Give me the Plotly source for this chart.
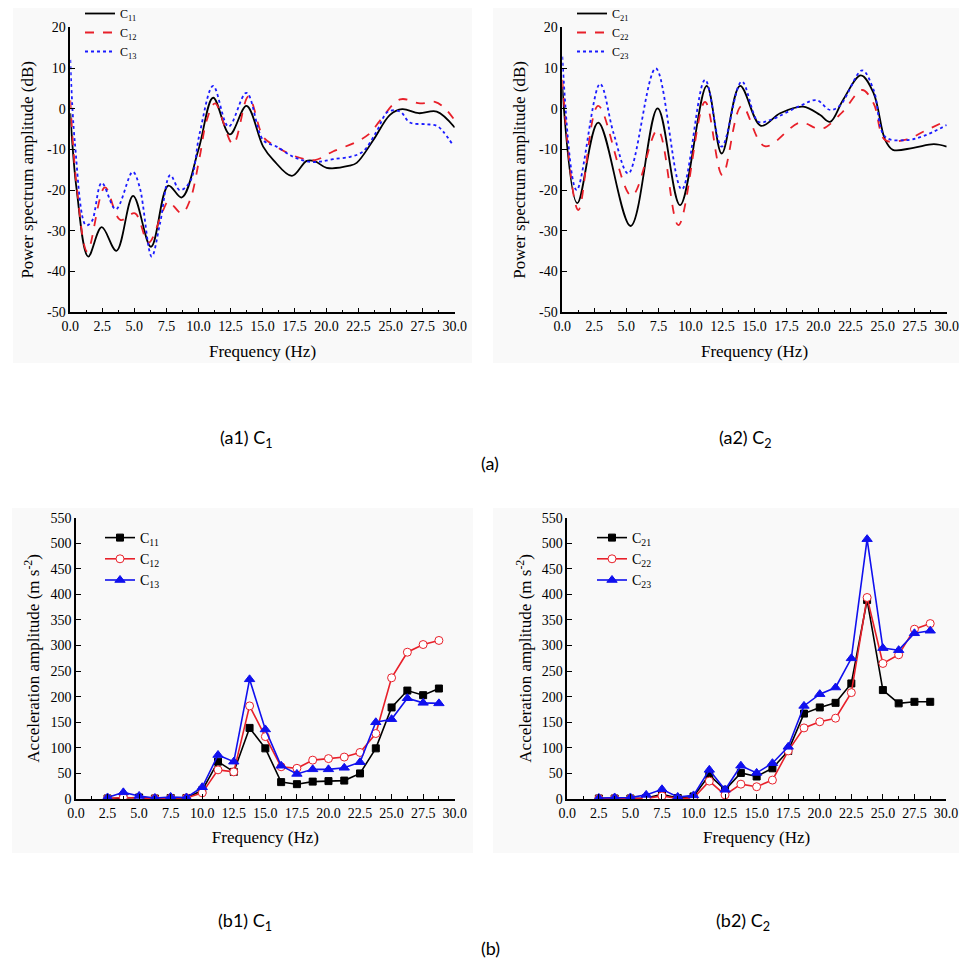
import plotly.graph_objects as go

# ---------------- data: power spectra (a) ----------------
a1_c11_x = [0.0, 0.5, 1.4, 2.45, 3.6, 4.9, 6.3, 7.65, 8.7, 10.0, 11.15, 12.45, 13.75, 15.05, 15.85, 17.3, 18.45, 19.1, 20.0, 21.8, 22.35, 23.65, 24.95, 25.9, 27.2, 28.6, 30.0]
a1_c11_y = [-1.1, -20.0, -36.3, -29.1, -34.9, -21.4, -33.9, -18.9, -21.8, -10.1, 2.7, -6.3, 0.7, -9.3, -12.6, -16.5, -12.8, -12.9, -14.5, -14.0, -13.3, -7.7, -1.5, -0.1, -1.1, -0.7, -4.6]

a1_c12_x = [0.0, 0.5, 1.33, 2.7, 3.9, 5.05, 6.1, 7.25, 7.65, 8.7, 9.35, 10.1, 10.65, 11.3, 12.7, 13.9, 15.05, 15.85, 17.65, 19.1, 20.5, 22.35, 23.4, 24.2, 25.75, 27.3, 28.45, 29.1, 29.9]
a1_c12_y = [2.1, -19.0, -35.1, -19.3, -27.3, -25.7, -32.9, -24.9, -22.8, -25.7, -22.4, -11.8, -2.8, 1.3, -8.7, 3.0, -6.9, -8.9, -11.8, -12.6, -10.5, -8.1, -6.0, -2.8, 2.3, 1.3, 1.7, 0.5, -2.4]

a1_c13_x = [0.0, 0.36, 1.22, 1.67, 2.45, 3.55, 4.87, 5.4, 6.35, 7.0, 7.8, 8.55, 9.35, 10.1, 11.15, 12.35, 13.75, 15.05, 16.1, 17.4, 18.6, 19.5, 20.5, 21.85, 22.85, 23.9, 24.8, 25.75, 26.5, 27.8, 28.6, 29.1, 29.9]
a1_c13_y = [12.0, -8.5, -28.6, -27.7, -18.2, -24.7, -15.5, -19.1, -36.3, -28.2, -16.3, -20.0, -17.9, -6.0, 5.6, -4.4, 3.9, -7.7, -9.3, -11.8, -13.0, -13.0, -12.4, -11.8, -10.5, -5.6, -0.7, -0.7, -3.4, -3.8, -4.2, -5.6, -9.1]

a2_c21_x = [0.0, 1.17, 2.8, 5.33, 7.44, 9.19, 11.27, 12.44, 13.87, 15.5, 17.0, 18.8, 20.1, 20.9, 21.9, 23.3, 24.3, 25.2, 25.8, 27.4, 29.0, 30.0]
a2_c21_y = [5.4, -23.2, -3.4, -28.8, 0.1, -23.7, 5.6, -11.0, 5.6, -4.2, -1.1, 0.5, -1.5, -3.2, 2.1, 8.2, 3.8, -7.7, -10.1, -9.6, -8.7, -9.3]

a2_c22_x = [0.0, 1.25, 2.8, 5.41, 7.44, 9.06, 11.14, 12.49, 14.0, 15.8, 18.55, 19.85, 20.4, 21.9, 23.4, 24.3, 25.2, 26.9, 28.2, 30.0]
a2_c22_y = [7.1, -24.9, 0.7, -21.4, -5.2, -28.6, 1.7, -16.3, 0.7, -9.2, -3.4, -4.8, -4.8, -0.7, 4.6, 1.3, -7.7, -7.5, -5.6, -2.9]

a2_c23_x = [0.0, 1.12, 2.94, 4.0, 5.15, 7.29, 9.32, 11.14, 12.44, 14.0, 15.3, 16.2, 18.55, 19.85, 20.9, 21.7, 23.4, 24.3, 25.2, 26.9, 28.2, 30.0]
a2_c23_y = [12.8, -20.0, 6.1, -6.0, -15.9, 9.9, -19.8, 7.1, -9.3, 6.7, -3.2, -2.8, 0.7, 2.1, -0.3, 0.9, 9.4, 4.6, -6.9, -7.7, -6.7, -4.0]

# ---------------- data: acceleration amplitudes (b) ----------------
b_freq = [2.5, 3.75, 5.0, 6.25, 7.5, 8.75, 10.0, 11.25, 12.5, 13.75, 15.0, 16.25, 17.5, 18.75, 20.0, 21.25, 22.5, 23.75, 25.0, 26.25, 27.5, 28.75]
b1_c11 = [1, 2, 3, 1, 2, 2, 17, 73, 53, 139, 99, 33, 29, 34, 35, 36, 50, 99, 179, 212, 203, 216]
b1_c12 = [1, 3, 2, 1, 2, 2, 12, 57, 53, 182, 122, 63, 60, 76, 79, 82, 91, 128, 237, 287, 302, 310]
b1_c13 = [3, 13, 6, 2, 4, 3, 23, 86, 73, 234, 136, 65, 49, 58, 58, 61, 72, 150, 156, 197, 188, 187]
b2_c21 = [1, 1, 1, 2, 9, 2, 5, 47, 18, 51, 44, 60, 94, 167, 179, 188, 226, 389, 213, 187, 190, 190]
b2_c22 = [1, 1, 1, 1, 6, 1, 2, 35, 8, 29, 24, 37, 94, 139, 151, 158, 208, 394, 265, 282, 332, 343]
b2_c23 = [2, 3, 3, 8, 19, 4, 7, 57, 18, 65, 51, 70, 102, 182, 205, 218, 275, 508, 295, 291, 324, 329]

x_ticks = [0.0, 2.5, 5.0, 7.5, 10.0, 12.5, 15.0, 17.5, 20.0, 22.5, 25.0, 27.5, 30.0]
a_y_ticks = [-50, -40, -30, -20, -10, 0, 10, 20]
b_y_ticks = [0, 50, 100, 150, 200, 250, 300, 350, 400, 450, 500, 550]

SERIF = "Liberation Serif"
OFF = 8                 # page body margin
W, H = 967 - OFF, 968 - OFF

fig = go.Figure()

def px_x(p):
    return (p - OFF) / W

def px_y(p):
    return 1 - (p - OFF) / H

# panel boxes (screen pixels): left, right, top, bottom
panels = {
    "a1": (70.3, 454.7, 27.3, 312.3),
    "a2": (562.3, 946.7, 27.3, 312.3),
    "b1": (76.0, 454.7, 517.7, 799.0),
    "b2": (567.3, 946.0, 517.7, 799.0),
}
axis_ids = {"a1": ("x", "y"), "a2": ("x2", "y2"), "b1": ("x3", "y3"), "b2": ("x4", "y4")}

line_styles = [("black", "solid"), ("#e8202a", "dash"), ("#1a1aff", "dot")]

def add_spectrum(key, xs_list, ys_list, names, legend):
    xa, ya = axis_ids[key]
    for (xs, ys, nm, (col, dash)) in zip(xs_list, ys_list, names, line_styles):
        fig.add_trace(go.Scatter(
            x=xs, y=ys, mode="lines", name=nm, xaxis=xa, yaxis=ya,
            line=dict(color=col, dash=dash, width=1.8, shape="spline", smoothing=1.0),
            legend=legend))

add_spectrum("a1", [a1_c11_x, a1_c12_x, a1_c13_x], [a1_c11_y, a1_c12_y, a1_c13_y],
             ["C<sub>11</sub>", "C<sub>12</sub>", "C<sub>13</sub>"], "legend")
add_spectrum("a2", [a2_c21_x, a2_c22_x, a2_c23_x], [a2_c21_y, a2_c22_y, a2_c23_y],
             ["C<sub>21</sub>", "C<sub>22</sub>", "C<sub>23</sub>"], "legend2")

marker_styles = [
    dict(color="black", symbol="square", size=7, line=dict(color="black", width=1)),
    dict(color="white", symbol="circle", size=8, line=dict(color="#e8202a", width=1)),
    dict(color="#1010ee", symbol="triangle-up", size=9, line=dict(color="#1010ee", width=1)),
]
line_cols = ["black", "#e8202a", "#1010ee"]

def add_accel(key, series, names, legend):
    xa, ya = axis_ids[key]
    for ys, nm, mk, lc in zip(series, names, marker_styles, line_cols):
        fig.add_trace(go.Scatter(
            x=b_freq, y=ys, mode="lines+markers", name=nm, xaxis=xa, yaxis=ya,
            line=dict(color=lc, width=1.6), marker=mk, legend=legend))

add_accel("b1", [b1_c11, b1_c12, b1_c13], ["C<sub>11</sub>", "C<sub>12</sub>", "C<sub>13</sub>"], "legend3")
add_accel("b2", [b2_c21, b2_c22, b2_c23], ["C<sub>21</sub>", "C<sub>22</sub>", "C<sub>23</sub>"], "legend4")

layout = dict(
    width=W, height=H, margin=dict(l=0, r=0, t=0, b=0, autoexpand=False),
    paper_bgcolor="white", plot_bgcolor="rgba(0,0,0,0)",
    font=dict(family=SERIF, size=13, color="black"),
)

def axis_pair(key, yrange, yticks, ytitle, ystandoff):
    l, r, t, b = panels[key]
    xa, ya = axis_ids[key]
    xname = "xaxis" + xa[1:]
    yname = "yaxis" + ya[1:]
    layout[xname] = dict(
        domain=[px_x(l), px_x(r)], anchor=ya, range=[0, 30], tickvals=x_ticks,
        ticktext=[f"{v:.1f}" for v in x_ticks], ticks="inside", ticklen=5, tickwidth=1.2,
        tickcolor="black", showline=True, linecolor="black", linewidth=1.5,
        showgrid=False, zeroline=False, tickfont=dict(family=SERIF, size=14, color="black"),
        automargin=False,
        minor=dict(ticks="inside", ticklen=3, tickwidth=1.2, tickcolor="black", dtick=1.25, tick0=0, showgrid=False),
        title=dict(text="Frequency (Hz)", font=dict(family=SERIF, size=17, color="black"), standoff=12),
    )
    layout[yname] = dict(
        domain=[px_y(b), px_y(t)], anchor=xa, range=yrange, tickvals=yticks,
        ticktext=[str(v) for v in yticks],
        ticks="inside", ticklen=5, tickwidth=1.2, tickcolor="black",
        showline=True, linecolor="black", linewidth=1.5, showgrid=False, zeroline=False,
        tickfont=dict(family=SERIF, size=14, color="black"), automargin=False,
        title=dict(text=ytitle, font=dict(family=SERIF, size=17, color="black"), standoff=ystandoff),
    )

axis_pair("a1", [-50, 20], a_y_ticks, "Power spectrum amplitude (dB)", 9)
axis_pair("a2", [-50, 20], a_y_ticks, "Power spectrum amplitude (dB)", 9)
axis_pair("b1", [0, 550], b_y_ticks, "Acceleration amplitude (m s<sup>-2</sup>)", 6)
axis_pair("b2", [0, 550], b_y_ticks, "Acceleration amplitude (m s<sup>-2</sup>)", 6)

def legend_at(xp, yp, size):
    return dict(x=px_x(xp), y=px_y(yp), xanchor="left", yanchor="top",
                bgcolor="rgba(0,0,0,0)", borderwidth=0, itemwidth=30,
                font=dict(family=SERIF, size=size, color="black"), tracegroupgap=0)

layout["legend"] = legend_at(80, -1, 12)
layout["legend2"] = legend_at(572, -1, 12)
layout["legend3"] = legend_at(100, 522, 14)
layout["legend4"] = legend_at(592, 522, 14)
layout["showlegend"] = True

CAP = "Lato"
captions = [
    ("(a1) C<sub>1</sub>", 246, 438), ("(a2) C<sub>2</sub>", 745, 438), ("(a)", 490, 463),
    ("(b1) C<sub>1</sub>", 245, 921), ("(b2) C<sub>2</sub>", 743, 921), ("(b)", 490, 948),
]
layout["annotations"] = [
    dict(text=t, x=px_x(xp), y=px_y(yp), xref="paper", yref="paper", showarrow=False,
         xanchor="center", yanchor="middle", font=dict(family=CAP, size=18, color="black"))
    for t, xp, yp in captions
]

# faint scanned-panel backgrounds
bg = [(13, 472, 3, 363), (493, 962, 3, 363), (12, 473, 508, 853), (493, 962, 508, 853)]
layout["shapes"] = [
    dict(type="rect", xref="paper", yref="paper", x0=px_x(l), x1=px_x(r), y0=px_y(b), y1=px_y(t),
         fillcolor="#f9f9f9", line=dict(width=0), layer="below")
    for l, r, t, b in bg
]

fig.update_layout(**layout)
fig.write_html("out.html")
